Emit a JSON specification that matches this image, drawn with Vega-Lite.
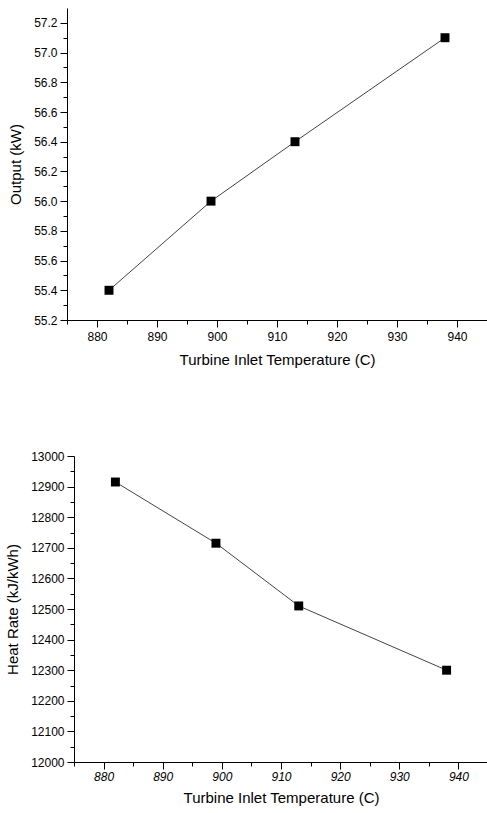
{
  "$schema": "https://vega.github.io/schema/vega-lite/v6.json",
  "padding": {"top": 8, "left": 5, "right": 0, "bottom": 5},
  "spacing": 83,
  "config": {
    "view": {"stroke": null},
    "font": "Liberation Sans",
    "axis": {
      "domainColor": "#000",
      "tickColor": "#000",
      "labelColor": "#000",
      "titleColor": "#000",
      "labelFont": "Liberation Sans",
      "titleFont": "Liberation Sans",
      "labelFontSize": 12,
      "titleFontSize": 15,
      "titleFontWeight": "normal",
      "grid": false,
      "labelPadding": 3
    }
  },
  "datasets": {
    "output": [
      {"temp": 882, "output": 55.4},
      {"temp": 899, "output": 56.0},
      {"temp": 913, "output": 56.4},
      {"temp": 938, "output": 57.1}
    ],
    "heat": [
      {"temp": 882, "rate": 12915},
      {"temp": 899, "rate": 12715},
      {"temp": 913, "rate": 12510},
      {"temp": 938, "rate": 12300}
    ]
  },
  "vconcat": [
    {
      "width": 420,
      "height": 312,
      "data": {"name": "output"},
      "encoding": {
        "x": {
          "field": "temp", "type": "quantitative",
          "scale": {"domain": [875, 945], "nice": false, "zero": false},
          "axis": {
            "title": "Turbine Inlet Temperature (C)",
            "values": [875, 880, 885, 890, 895, 900, 905, 910, 915, 920, 925, 930, 935, 940, 945],
            "labelExpr": "datum.value % 10 === 0 ? datum.label : ''",
            "tickSize": {"condition": {"test": "datum.value % 10 === 0", "value": 7}, "value": 4},
            "labelPadding": 4,
            "titlePadding": 10
          }
        },
        "y": {
          "field": "output", "type": "quantitative",
          "scale": {"domain": [55.2, 57.3], "nice": false, "zero": false},
          "axis": {
            "title": "Output (kW)",
            "values": [55.2, 55.3, 55.4, 55.5, 55.6, 55.7, 55.8, 55.9, 56.0, 56.1, 56.2, 56.3, 56.4, 56.5, 56.6, 56.7, 56.8, 56.9, 57.0, 57.1, 57.2],
            "labelExpr": "round(datum.value*10) % 2 === 0 ? format(datum.value, '.1f') : ''",
            "tickSize": {"condition": {"test": "round(datum.value*10) % 2 === 0", "value": 7}, "value": 4},
            "titlePadding": 10
          }
        }
      },
      "layer": [
        {"mark": {"type": "line", "color": "#444", "strokeWidth": 1}},
        {"mark": {"type": "point", "shape": "square", "filled": true, "size": 80, "color": "#000", "opacity": 1}}
      ]
    },
    {
      "width": 421,
      "height": 306,
      "data": {"name": "heat"},
      "encoding": {
        "x": {
          "field": "temp", "type": "quantitative",
          "scale": {"domain": [875, 945], "range": [7, 421], "nice": false, "zero": false},
          "axis": {
            "title": "Turbine Inlet Temperature (C)",
            "values": [875, 880, 885, 890, 895, 900, 905, 910, 915, 920, 925, 930, 935, 940, 945],
            "labelExpr": "datum.value % 10 === 0 ? datum.label : ''",
            "labelFontStyle": "italic",
            "tickSize": {"condition": {"test": "datum.value % 10 === 0", "value": 7}, "value": 4},
            "labelPadding": 2,
            "titlePadding": 8
          }
        },
        "y": {
          "field": "rate", "type": "quantitative",
          "scale": {"domain": [12000, 13000], "nice": false, "zero": false},
          "axis": {
            "title": "Heat Rate (kJ/kWh)",
            "offset": -7,
            "values": [12000, 12050, 12100, 12150, 12200, 12250, 12300, 12350, 12400, 12450, 12500, 12550, 12600, 12650, 12700, 12750, 12800, 12850, 12900, 12950, 13000],
            "labelExpr": "datum.value % 100 === 0 ? format(datum.value, 'd') : ''",
            "tickSize": {"condition": {"test": "datum.value % 100 === 0", "value": 7}, "value": 4},
            "titlePadding": 10
          }
        }
      },
      "layer": [
        {"mark": {"type": "line", "color": "#444", "strokeWidth": 1}},
        {"mark": {"type": "point", "shape": "square", "filled": true, "size": 80, "color": "#000", "opacity": 1}}
      ]
    }
  ]
}
